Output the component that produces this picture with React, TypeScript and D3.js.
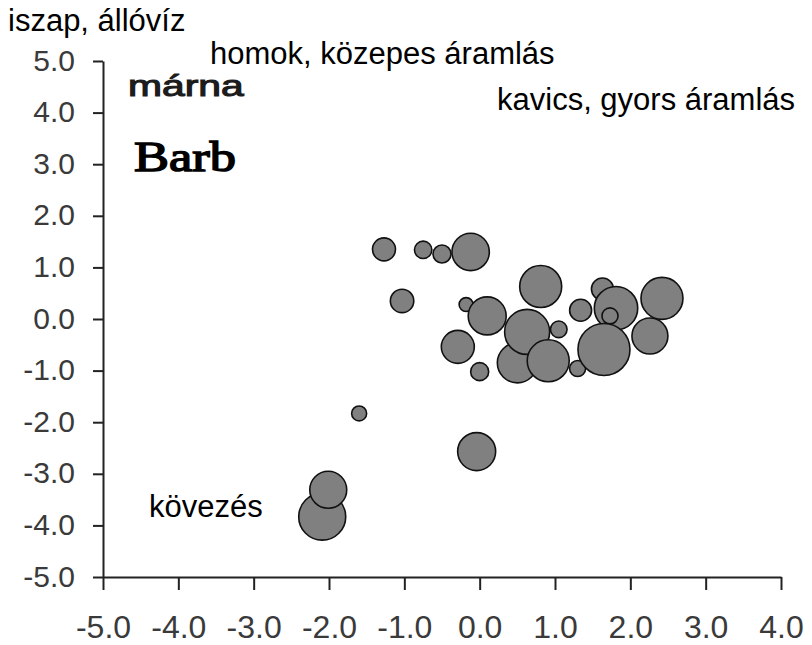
import React, { useEffect, useRef } from 'react'
import * as d3 from 'd3'

const width = 812
const height = 645
const margin = { top: 61, right: 31, bottom: 68, left: 103 }

// bubble data, in drawing order (later ones sit on top)
const xs = [-1.27, -0.75, -0.50, -0.12, -1.03, -0.18, 0.10, -0.29, 0.0, 1.63, 1.81, 1.73, 0.81, 0.50, 0.63, 0.91, 1.05, 1.34, 1.30, 1.65, 2.42, 2.26, -1.60, -0.04, -2.09, -2.01]
const ys = [1.35, 1.34, 1.26, 1.30, 0.35, 0.28, 0.06, -0.54, -1.02, 0.58, 0.21, 0.06, 0.63, -0.85, -0.25, -0.81, -0.20, 0.17, -0.96, -0.59, 0.40, -0.33, -1.83, -2.57, -3.83, -3.31]
const sizes = [19.6, 11.2, 12, 51.7, 20.3, 7.2, 53.4, 40.3, 12, 17.9, 69.7, 9.5, 65.2, 59.2, 74.9, 65.2, 10.2, 17.9, 9.5, 100, 65.2, 47.9, 8.3, 53.4, 81.7, 50.6]

const xTicks = [-5, -4, -3, -2, -1, 0, 1, 2, 3, 4]
const yTicks = [5, 4, 3, 2, 1, 0, -1, -2, -3, -4, -5]

const notes = [
    { text: 'iszap, állóvíz', x: 8, y: 31 },
    { text: 'homok, közepes áramlás', x: 210, y: 64 },
    { text: 'kavics, gyors áramlás', x: 497, y: 110 },
    { text: 'kövezés', x: 149, y: 517 },
]

const sans = '"Liberation Sans", Arial, sans-serif'
const fmt = (d: number) => d3.format('.1f')(d).replace('\u2212', '-')

export default function App() {
    const node = useRef<SVGSVGElement>(null)

    useEffect(() => {
        const svg = d3.select(node.current)
        svg.selectAll('*').remove()

        const x = d3.scaleLinear()
            .domain([-5, 4])
            .range([margin.left, width - margin.right])

        const y = d3.scaleLinear()
            .domain([-5, 5])
            .range([height - margin.bottom, margin.top])

        const r = d3.scaleSqrt()
            .domain([0, 100])
            .range([0, 26])

        const data = xs.map((d, i) => ({ x: d, y: ys[i], s: sizes[i] }))

        svg.append('rect')
            .attr('width', width)
            .attr('height', height)
            .attr('fill', '#fff')

        // x axis
        const xAxis = svg.append('g')
            .attr('transform', `translate(0,${y(-5)})`)
            .call(d3.axisBottom(x)
                .tickValues(xTicks)
                .tickFormat(fmt)
                .tickSize(13)
                .tickSizeOuter(0))
        xAxis.select('.domain').attr('stroke', '#222').attr('stroke-width', 2)
        xAxis.selectAll('.tick line').attr('stroke', '#222').attr('stroke-width', 2)
        xAxis.selectAll('.tick text')
            .attr('y', 0)
            .attr('dy', 61)
            .attr('fill', '#3a3a3a')
            .style('font-family', sans)
            .style('font-size', '32px')

        // y axis
        const yAxis = svg.append('g')
            .attr('transform', `translate(${x(-5)},0)`)
            .call(d3.axisLeft(y)
                .tickValues(yTicks)
                .tickFormat(fmt)
                .tickSize(10)
                .tickSizeOuter(0))
        yAxis.select('.domain').attr('stroke', '#222').attr('stroke-width', 2)
        yAxis.selectAll('.tick line').attr('stroke', '#222').attr('stroke-width', 2)
        yAxis.selectAll('.tick text')
            .attr('x', -28)
            .attr('dy', '0.3em')
            .attr('fill', '#3a3a3a')
            .style('font-family', sans)
            .style('font-size', '30px')

        // bubbles
        svg.append('g')
            .selectAll('circle')
            .data(data)
            .join('circle')
            .attr('cx', d => x(d.x))
            .attr('cy', d => y(d.y))
            .attr('r', d => r(d.s))
            .attr('fill', '#808080')
            .attr('stroke', '#111')
            .attr('stroke-width', 1.6)

        // titles: regular faces thickened with a stroke, stretched like the scan
        svg.append('text')
            .attr('transform', 'translate(128,96) scale(1.36,1)')
            .attr('fill', '#1c1c1c')
            .attr('stroke', '#1c1c1c')
            .attr('stroke-width', 1.1)
            .style('font-family', sans)
            .style('font-size', '30px')
            .text('márna')

        svg.append('text')
            .attr('transform', 'translate(134,171) scale(1.22,1)')
            .attr('fill', '#000')
            .attr('stroke', '#000')
            .attr('stroke-width', 1.5)
            .style('font-family', '"Liberation Serif", "Times New Roman", serif')
            .style('font-size', '43px')
            .text('Barb')

        // habitat notes
        svg.append('g')
            .selectAll('text')
            .data(notes)
            .join('text')
            .attr('x', d => d.x)
            .attr('y', d => d.y)
            .attr('fill', '#000')
            .style('font-family', sans)
            .style('font-size', '31px')
            .text(d => d.text)
    }, [])

    return (
        <svg
            ref={node}
            width={width}
            height={height}
            style={{ position: 'absolute', left: 0, top: 0 }}
        />
    )
}
